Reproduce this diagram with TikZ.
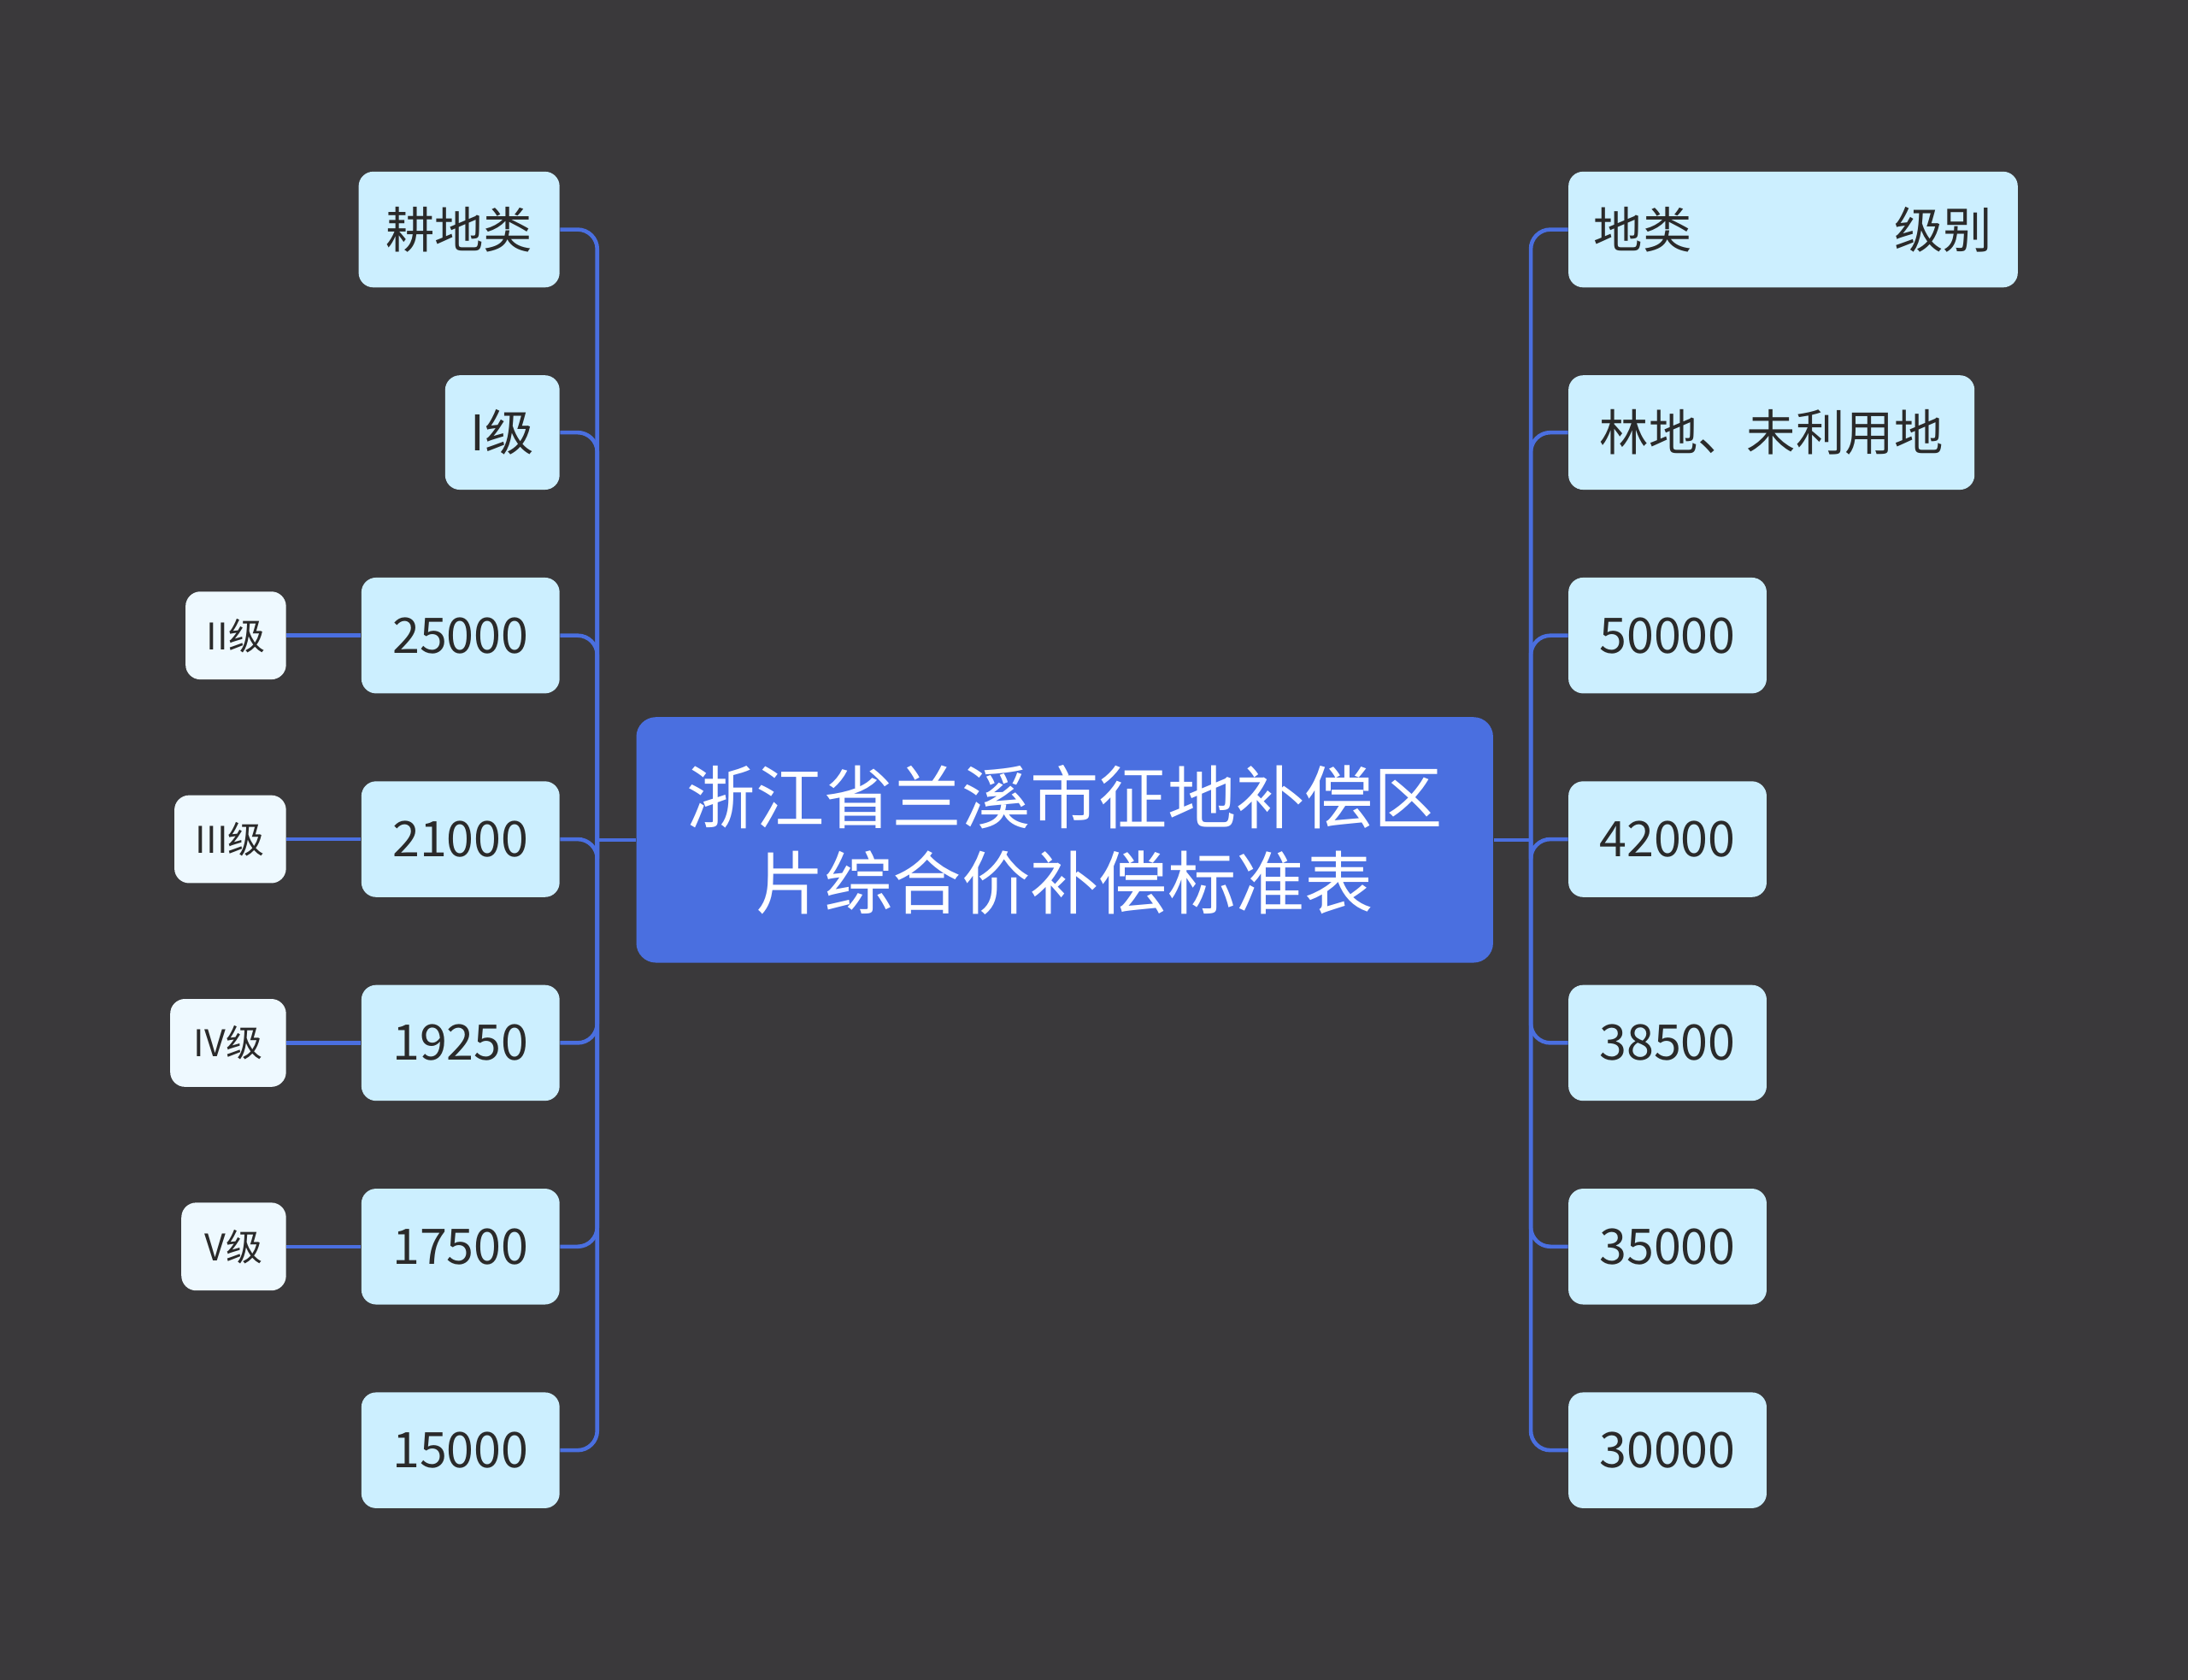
\documentclass[tikz,border=0pt]{standalone}
\usepackage{fontspec}
\setmainfont{Noto Sans CJK SC}
\begin{document}
\begin{tikzpicture}[x=0.02cm,y=-0.02cm,
 box/.style={fill=boxc,rounded corners=6,inner sep=0,text=txt,font=\fontsize{20}{24}\selectfont},
 sm/.style={fill=smc,rounded corners=6,inner sep=0,text=txt,font=\fontsize{15}{18}\selectfont},
 ln/.style={draw=linec,line width=1.6pt,rounded corners=8}]
\definecolor{bg}{HTML}{3A393B}\definecolor{boxc}{HTML}{CCEFFF}\definecolor{smc}{HTML}{EEF9FF}
\definecolor{linec}{HTML}{4A6FE0}\definecolor{txt}{HTML}{2A2A2A}
\fill[bg] (0,0) rectangle (1568,1204);
\node[fill=linec,rounded corners=8,text=white,minimum width=614*0.02cm,minimum height=176*0.02cm,align=center,font=\fontsize{28}{35}\selectfont,inner sep=0] (c) at (763,602) {浙江省兰溪市征地补偿区\\片综合价补偿标准表};
% left
\node[box,minimum width=144*0.02cm,minimum height=83*0.02cm] (l1) at (329,164.5) {耕地类};
\node[box,minimum width=82*0.02cm,minimum height=82*0.02cm] (l2) at (360,310) {I级};
\foreach \n/\y/\t in {l3/455.5/25000,l4/601.5/21000,l5/747.5/19250,l6/893.5/17500,l7/1039.5/15000}
 \node[box,minimum width=142*0.02cm,minimum height=83*0.02cm] (\n) at (330,\y) {\t};
\node[sm,minimum width=72*0.02cm,minimum height=63*0.02cm] (s3) at (169,455.5) {II级};
\node[sm,minimum width=80*0.02cm,minimum height=63*0.02cm] (s4) at (165,601.5) {III级};
\node[sm,minimum width=83*0.02cm,minimum height=63*0.02cm] (s5) at (163.5,747.5) {IV级};
\node[sm,minimum width=75*0.02cm,minimum height=63*0.02cm] (s6) at (167.5,893.5) {V级};
% right
\node[box,minimum width=322*0.02cm,minimum height=83*0.02cm] (r1) at (1285,164.5) {};
\node[text=txt,font=\fontsize{20}{24}\selectfont,anchor=west] at (1136,164.5) {地类};
\node[text=txt,font=\fontsize{20}{24}\selectfont,anchor=east] at (1434,164.5) {级别};
\node[box,minimum width=291*0.02cm,minimum height=82*0.02cm] (r2) at (1269.5,310) {林地、未利用地};
\foreach \n/\y/\t in {r3/455.5/50000,r4/601.5/42000,r5/747.5/38500,r6/893.5/35000,r7/1039.5/30000}
 \node[box,minimum width=142*0.02cm,minimum height=83*0.02cm] (\n) at (1195,\y) {\t};
\coordinate (lt) at (428,602); \coordinate (rt) at (1097,602);
\draw[ln,rounded corners=0] (c.west) -- (lt);
\draw[ln,rounded corners=0] (c.east) -- (rt);
\foreach \n in {l1,l2,l3,l4,l5,l6,l7} \draw[ln] (lt) |- (\n.east);
\foreach \n in {r1,r2,r3,r4,r5,r6,r7} \draw[ln] (rt) |- (\n.west);
\foreach \i in {3,4,5,6} \draw[ln] (s\i.east) -- (l\i.west);
\end{tikzpicture}
\end{document}
